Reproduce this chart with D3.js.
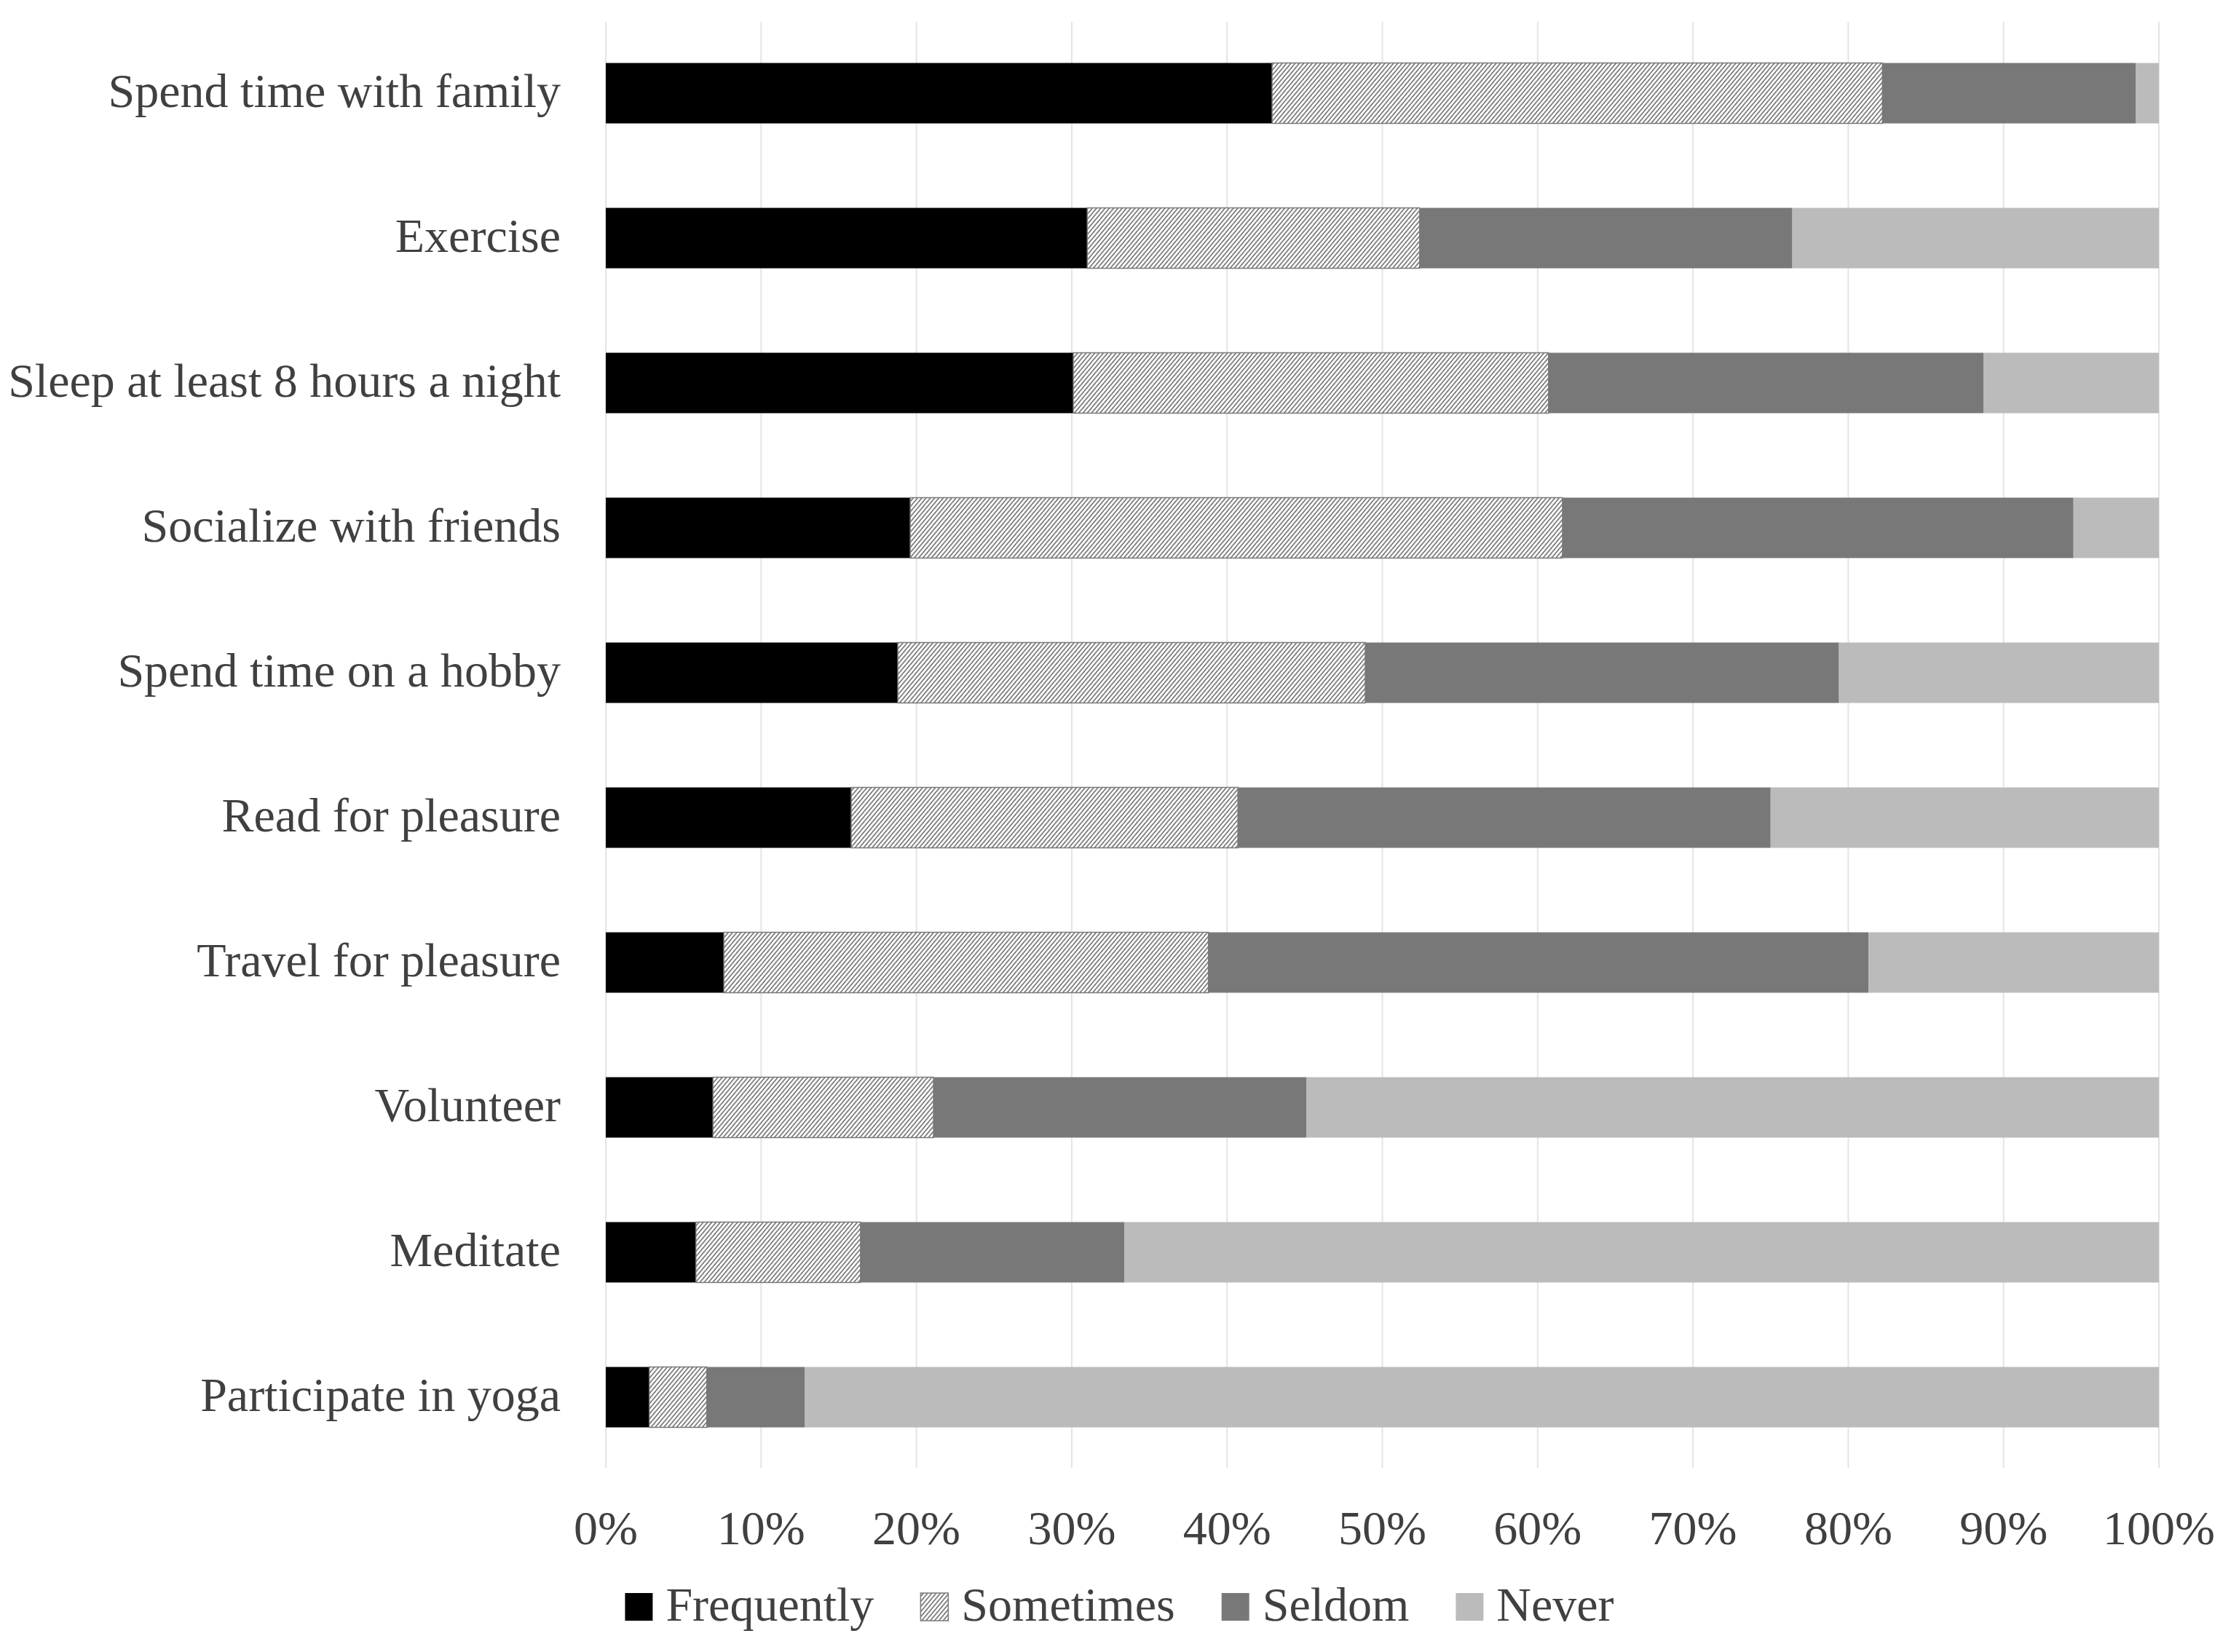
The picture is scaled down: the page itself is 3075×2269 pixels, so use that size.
<!DOCTYPE html>
<html>
<head>
<meta charset="utf-8">
<script src="https://cdn.jsdelivr.net/npm/d3@7"></script>
<style>
  body { margin: 0; background: #fff; }
  text { font-family: "Liberation Serif", "DejaVu Serif", serif; fill: #404040; }
</style>
</head>
<body>
<script>
//chart data (percent of respondents)
const categories = ["Spend time with family", "Exercise", "Sleep at least 8 hours a night",
                    "Socialize with friends", "Spend time on a hobby", "Read for pleasure",
                    "Travel for pleasure", "Volunteer", "Meditate", "Participate in yoga"];
const seriesNames = ["Frequently", "Sometimes", "Seldom", "Never"];
const frequently = [42.9, 31.0, 30.1, 19.6, 18.8, 15.8, 7.6, 6.9, 5.8, 2.8];
const sometimes  = [39.3, 21.4, 30.6, 42.0, 30.1, 24.9, 31.2, 14.2, 10.6, 3.7];
const seldom     = [16.3, 24.0, 28.0, 32.9, 30.5, 34.3, 42.5, 24.0, 17.0, 6.3];
const never      = [1.5, 23.6, 11.3, 5.5, 20.6, 25.0, 18.7, 54.9, 66.6, 87.2];
const tickValues = [0, 10, 20, 30, 40, 50, 60, 70, 80, 90, 100];

//build rows for the stack
let data = categories.map((c, i) => {
  return {
    name: c,
    Frequently: frequently[i],
    Sometimes: sometimes[i],
    Seldom: seldom[i],
    Never: never[i]
  }
});

drawChart(data);

function drawChart(data) {
  let width = 3075, height = 2269;
  let margin = {top: 28.5, left: 832, right: 110};
  let plotBottom = 2018.5;

  let svg = d3.select("body").append("svg")
      .attr("width", width)
      .attr("height", height);

  //hatch pattern for "Sometimes"
  svg.append("defs")
      .append("pattern")
      .attr("id", "hatch")
      .attr("patternUnits", "userSpaceOnUse")
      .attr("width", 4.5)
      .attr("height", 4.5)
      .attr("patternTransform", "rotate(40)")
      .call(p => {
        p.append("rect").attr("width", 4.5).attr("height", 4.5).attr("fill", "#fff");
        p.append("line").attr("x1", 1).attr("y1", 0).attr("x2", 1).attr("y2", 4.5)
          .attr("stroke", "#5a5a5a").attr("stroke-width", 1.4);
      });

  let xScale = d3.scaleLinear()
      .domain([0, 100])
      .range([margin.left, width - margin.right]);

  let yScale = d3.scaleBand()
      .domain(categories)
      .range([margin.top, plotBottom])
      .paddingInner(0.583)
      .paddingOuter(0.2915);

  let fills = {
    Frequently: "#000000",
    Sometimes: "url(#hatch)",
    Seldom: "#787878",
    Never: "#bbbbbb"
  };

  //gridlines
  svg.append("g")
      .selectAll("line")
      .data(tickValues)
      .join("line")
      .attr("x1", d => xScale(d))
      .attr("x2", d => xScale(d))
      .attr("y1", 30)
      .attr("y2", 2016)
      .attr("stroke", "#e4e4e4")
      .attr("stroke-width", 2);

  //stacked bars
  let stacked = d3.stack().keys(seriesNames)(data);

  svg.append("g")
      .selectAll("g")
      .data(stacked)
      .join("g")
      .attr("fill", d => fills[d.key])
      .attr("stroke", d => d.key === "Sometimes" ? "#7a7a7a" : "none")
      .attr("stroke-width", 1.5)
      .selectAll("rect")
      .data(d => d)
      .join("rect")
      .attr("x", d => xScale(d[0]))
      .attr("width", d => xScale(d[1]) - xScale(d[0]))
      .attr("y", d => yScale(d.data.name))
      .attr("height", yScale.bandwidth());

  //category labels
  svg.append("g")
      .selectAll("text")
      .data(categories)
      .join("text")
      .attr("x", 770)
      .attr("y", d => yScale(d) + yScale.bandwidth() / 2 + 19)
      .attr("text-anchor", "end")
      .style("font-size", "66px")
      .text(d => d);

  //x tick labels
  svg.append("g")
      .selectAll("text")
      .data(tickValues)
      .join("text")
      .attr("x", d => xScale(d))
      .attr("y", 2121)
      .attr("text-anchor", "middle")
      .style("font-size", "66px")
      .text(d => d + "%");

  //legend, centred on the page
  let legend = svg.append("g");
  let items = legend.selectAll("g")
      .data(seriesNames)
      .join("g");

  items.append("rect")
      .attr("width", 38)
      .attr("height", 38)
      .attr("y", 2188)
      .attr("fill", d => fills[d])
      .attr("stroke", d => d === "Sometimes" ? "#7a7a7a" : "none")
      .attr("stroke-width", 1.5);

  items.append("text")
      .attr("x", 56)
      .attr("y", 2226)
      .style("font-size", "66px")
      .text(d => d);

  let gap = 64;
  let offset = 0;
  items.each(function() {
    let w = 56 + d3.select(this).select("text").node().getComputedTextLength();
    d3.select(this).attr("transform", "translate(" + offset + ",0)");
    offset += w + gap;
  });
  let total = offset - gap;
  legend.attr("transform", "translate(" + (width / 2 - total / 2) + ",0)");
}
</script>
</body>
</html>
